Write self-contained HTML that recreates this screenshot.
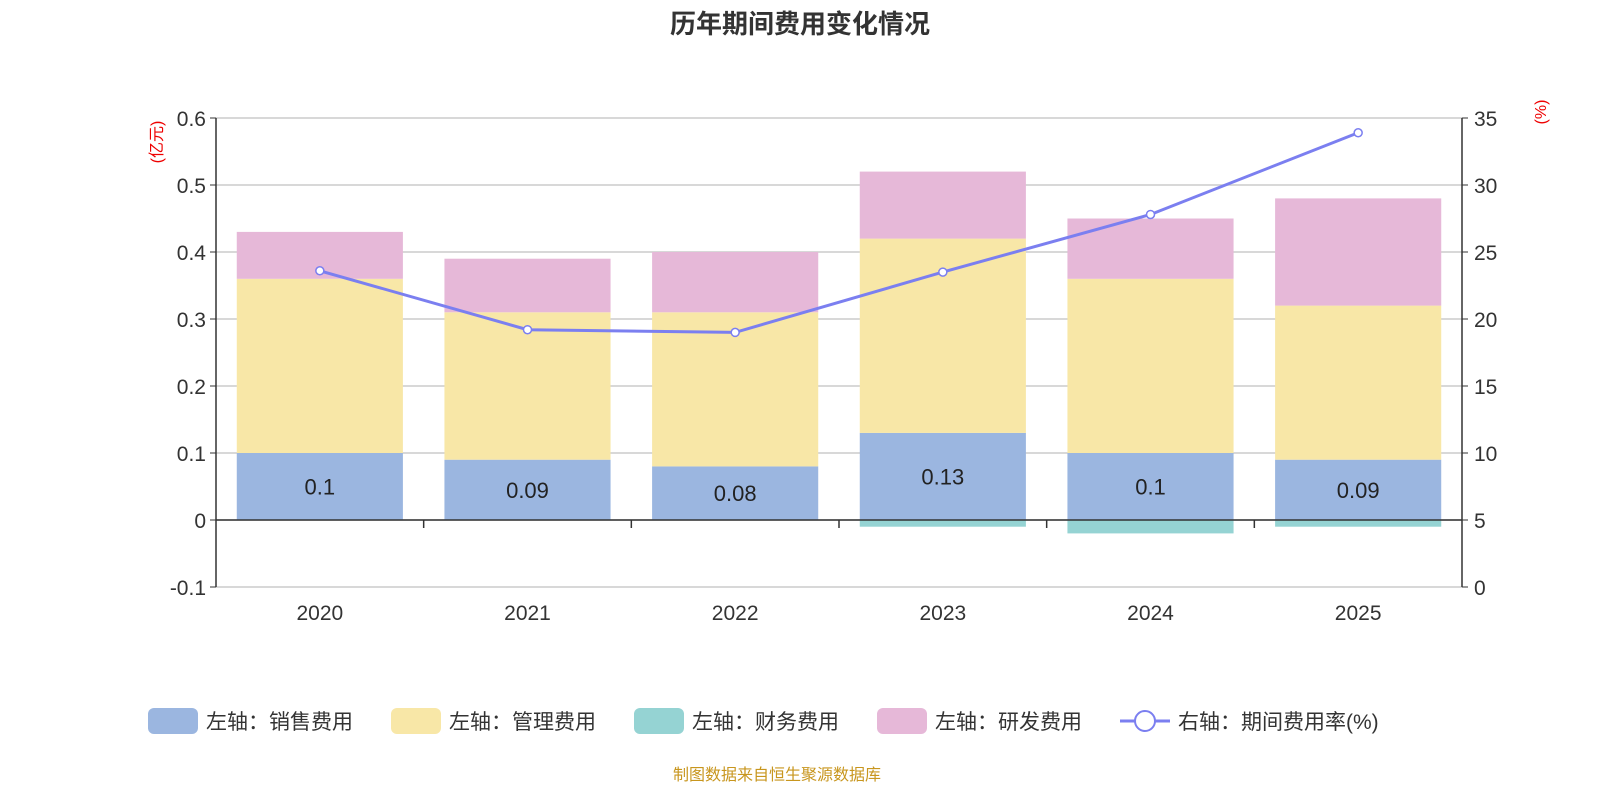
<!DOCTYPE html>
<html><head><meta charset="utf-8"><style>
body{margin:0;background:#fff;font-family:"Liberation Sans","Noto Sans CJK SC",sans-serif;}
</style></head><body>
<svg id="c" width="1600" height="800" xmlns="http://www.w3.org/2000/svg" font-family="Liberation Sans, Noto Sans CJK SC, sans-serif">
<text x="800" y="33" text-anchor="middle" font-size="26" font-weight="bold" fill="#333">历年期间费用变化情况</text>
<text transform="translate(162,142) rotate(-90)" text-anchor="middle" font-size="16" fill="#e00">(亿元)</text>
<text transform="translate(1546,112) rotate(-90)" text-anchor="middle" font-size="16" fill="#e00">(%)</text>
<g id="grid"></g><g id="bars"></g><g id="axes"></g><g id="line"></g>
<g font-size="21" fill="#333">
<rect x="148" y="708" width="50" height="26" rx="6" fill="#9bb6e0"/><text x="206" y="729">左轴：销售费用</text>
<rect x="391" y="708" width="50" height="26" rx="6" fill="#f8e7a7"/><text x="449" y="729">左轴：管理费用</text>
<rect x="634" y="708" width="50" height="26" rx="6" fill="#95d3d3"/><text x="692" y="729">左轴：财务费用</text>
<rect x="877" y="708" width="50" height="26" rx="6" fill="#e6b8d8"/><text x="935" y="729">左轴：研发费用</text>
<line x1="1120" y1="721" x2="1170" y2="721" stroke="#7b7ff0" stroke-width="3"/><circle cx="1145" cy="721" r="10" fill="#fff" stroke="#7b7ff0" stroke-width="2"/><text x="1178" y="729">右轴：期间费用率(%)</text>
</g>
<text x="777" y="780" text-anchor="middle" font-size="16" fill="#c8961e">制图数据来自恒生聚源数据库</text>
</svg>
<script>
const categories=["2020","2021","2022","2023","2024","2025"];
const sales=[0.1,0.09,0.08,0.13,0.1,0.09];
const mgmt=[0.26,0.22,0.23,0.29,0.26,0.23];
const finance=[0,0,0,-0.01,-0.02,-0.01];
const rd=[0.07,0.08,0.09,0.10,0.09,0.16];
const rate=[23.6,19.2,19.0,23.5,27.8,33.9];
const leftTicks=[-0.1,0,0.1,0.2,0.3,0.4,0.5,0.6];
const rightTicks=[0,5,10,15,20,25,30,35];
const NS="http://www.w3.org/2000/svg";
const L=216,R=1462,T=118,B=587;
const yL=v=>B-(v+0.1)/0.7*(B-T);
const yR=v=>B-v/35*(B-T);
const cw=(R-L)/categories.length;
const xC=i=>L+cw*(i+0.5);
function mk(p,tag,a){const e=document.createElementNS(NS,tag);for(const k in a)e.setAttribute(k,a[k]);document.getElementById(p).appendChild(e);return e;}
leftTicks.forEach(v=>{const g=mk("grid","line",{x1:L,x2:R,y1:yL(v),y2:yL(v),stroke:"#ccc","stroke-width":1.5});


const t=mk("axes","text",{x:L-10,y:yL(v)+8,"text-anchor":"end","font-size":21,fill:"#333"});t.textContent=v;

});
rightTicks.forEach(v=>{const t=mk("axes","text",{x:R+12,y:yR(v)+8,"font-size":21,fill:"#333"});t.textContent=v;


const k=mk("axes","line",{x1:R,x2:R+6,y1:yR(v),y2:yR(v),stroke:"#333"});

});
const bw=cw*0.8;
categories.forEach((c,i)=>{
 const x=xC(i)-bw/2;
 function bar(v0,v1,col,n){const r=mk("bars","rect",{x:x,y:Math.min(yL(v0),yL(v1)),width:bw,height:Math.abs(yL(v0)-yL(v1)),fill:col});
  
  }
 bar(0,sales[i],"#9bb6e0","bar-sales-"+c);
 bar(sales[i],sales[i]+mgmt[i],"#f8e7a7","bar-mgmt-"+c);
 bar(sales[i]+mgmt[i],sales[i]+mgmt[i]+rd[i],"#e6b8d8","bar-rd-"+c);
 if(finance[i]!==0)bar(finance[i],0,"#95d3d3","bar-finance-"+c);
 const t=mk("bars","text",{x:xC(i),y:yL(sales[i]/2)+8,"text-anchor":"middle","font-size":22,fill:"#222"});t.textContent=sales[i];
 
 
 const xl=mk("axes","text",{x:xC(i),y:620,"text-anchor":"middle","font-size":21,fill:"#333"});xl.textContent=c;
 
 
 if(i>0){const k=mk("axes","line",{x1:L+cw*i,x2:L+cw*i,y1:yL(0),y2:yL(0)+8,stroke:"#333","stroke-width":1.5});
 
 }
});
const a1=mk("axes","line",{x1:L,x2:R,y1:yL(0),y2:yL(0),stroke:"#333","stroke-width":1.5});
const a2=mk("axes","line",{x1:L,x2:L,y1:T,y2:B,stroke:"#333","stroke-width":1.5});
const a3=mk("axes","line",{x1:R,x2:R,y1:T,y2:B,stroke:"#333","stroke-width":1.5});
leftTicks.forEach(v=>{const k=mk("axes","line",{x1:L-6,x2:L,y1:yL(v),y2:yL(v),stroke:"#333"});});
const pl=mk("line","polyline",{points:rate.map((v,i)=>xC(i)+","+yR(v)).join(" "),fill:"none",stroke:"#7b7ff0","stroke-width":3});


rate.forEach((v,i)=>{const p=mk("line","circle",{cx:xC(i),cy:yR(v),r:4,fill:"#fff",stroke:"#7b7ff0","stroke-width":1.5});

});
</script>
</body></html>
